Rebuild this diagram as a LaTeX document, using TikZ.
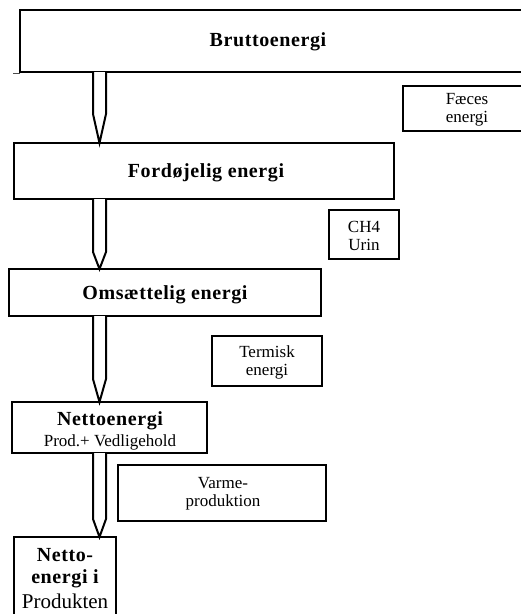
\documentclass[tikz,border=0pt]{standalone}
\usepackage{fontspec}
\setmainfont{Liberation Serif}
\newfontfamily\spacedfont[LetterSpace=3]{Liberation Serif}
\usetikzlibrary{calc}
\begin{document}
\begin{tikzpicture}[x=1pt,y=-1pt,
  box/.style={draw, line width=2pt, outer sep=0pt, inner sep=0pt, anchor=north west},
  bt/.style={font=\spacedfont\fontsize{20}{21.5}\selectfont\bfseries, align=center, inner sep=0pt},
  st/.style={font=\fontsize{17}{18}\selectfont, align=center, inner sep=0pt},
  arr/.style={draw, line width=2pt, fill=white, line join=miter},
  tick/.style={draw, line width=1pt, black!70}]
\useasboundingbox (0,0) rectangle (521,614);
\clip (0,0) rectangle (521,614);
% boxes
\node[box, minimum width=560, minimum height=62] (brutto) at (20,10) {};
\node[box, minimum width=160, minimum height=45] (faeces) at (403,86) {};
\node[box, minimum width=380, minimum height=56] (ford) at (14,143) {};
\node[box, minimum width=70, minimum height=49] (ch4) at (329,210) {};
\node[box, minimum width=312, minimum height=47] (oms) at (9,269) {};
\node[box, minimum width=110, minimum height=50] (term) at (212,336) {};
\node[box, minimum width=195, minimum height=51] (netto) at (12,402) {};
\node[box, minimum width=208, minimum height=56] (varme) at (118,465) {};
\node[box, minimum width=102, minimum height=100] (prod) at (14,537) {};
% texts
\node[bt] (bruttotxt) at (268,42) {Bruttoenergi};
\node[st] (faecestxt) at (467,110) {Fæces\\energi};
\node[bt] (fordtxt) at (206,173) {Fordøjelig energi};
\node[st] (ch4txt) at (364,236) {CH4\\Urin};
\node[bt] (omstxt) at (165,295) {Omsættelig energi};
\node[st] (termtxt) at (267,362) {Termisk\\energi};
\node[bt] (nettotxt) at (110,421) {Nettoenergi};
\node[st] (nettosub) at (110,442) {Prod.+ Vedligehold};
\node[st] (varmetxt) at (223,494) {Varme-\\produktion};
\node[bt] (prodtxt) at (65,568) {Netto-\\energi i};
\node[font=\fontsize{21}{22}\selectfont, inner sep=0pt] (prodsub) at (65,601) {Produkten};
% stray tick
\draw[tick] ($(brutto.south west)+(0,-1pt)$) -- ++(-7pt,0);
% arrows
\coordinate (ax) at (99.5,0);
\draw[arr] ($(ax |- brutto.south)+(-6.5pt,0)$) -- ($(ax |- ford.north)+(-6.5pt,29pt)$) -- (ax |- ford.north) -- ($(ax |- ford.north)+(6.5pt,29pt)$) -- ($(ax |- brutto.south)+(6.5pt,0)$);
\draw[arr] ($(ax |- ford.south)+(-6.5pt,0)$) -- ($(ax |- oms.north)+(-6.5pt,17pt)$) -- (ax |- oms.north) -- ($(ax |- oms.north)+(6.5pt,17pt)$) -- ($(ax |- ford.south)+(6.5pt,0)$);
\draw[arr] ($(ax |- oms.south)+(-6.5pt,0)$) -- ($(ax |- netto.north)+(-6.5pt,23pt)$) -- (ax |- netto.north) -- ($(ax |- netto.north)+(6.5pt,23pt)$) -- ($(ax |- oms.south)+(6.5pt,0)$);
\draw[arr] ($(ax |- netto.south)+(-6.5pt,0)$) -- ($(ax |- prod.north)+(-6.5pt,18pt)$) -- (ax |- prod.north) -- ($(ax |- prod.north)+(6.5pt,18pt)$) -- ($(ax |- netto.south)+(6.5pt,0)$);
\end{tikzpicture}
\end{document}
